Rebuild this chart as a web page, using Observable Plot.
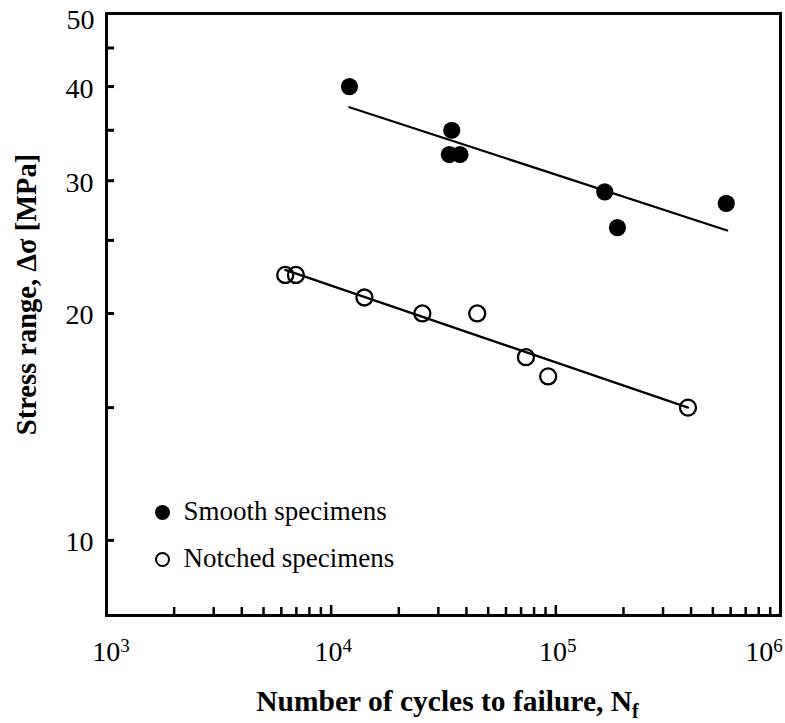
<!DOCTYPE html>
<html><head><meta charset="utf-8">
<script src="https://cdn.jsdelivr.net/npm/d3@7"></script>
<script src="https://cdn.jsdelivr.net/npm/@observablehq/plot@0.6"></script>
<style>body{margin:0;background:#fff}</style>
</head><body><div id="chart"></div>
<script>
// Smooth specimens (filled)
const smoothN = [12060, 34400, 33560, 37440, 165100, 188000, 573700];
const smoothS = [40.0, 35.0, 32.5, 32.5, 29.0, 26.0, 28.0];
// Notched specimens (open)
const notchedN = [6245, 6966, 14060, 25460, 44670, 73580, 92440, 387400];
const notchedS = [22.5, 22.5, 21.0, 20.0, 20.0, 17.5, 16.5, 15.0];
// Fit lines (end points)
const smoothFitN = [12060, 579000];
const smoothFitS = [37.55, 25.77];
const notchedFitN = [6245, 388000];
const notchedFitS = [22.85, 15.0];
// Ticks
const xMajorTicks = [1e3, 1e4, 1e5, 1e6];
const xMinorTicks = [2e3, 3e3, 4e3, 5e3, 6e3, 7e3, 8e3, 9e3,
                     2e4, 3e4, 4e4, 5e4, 6e4, 7e4, 8e4, 9e4,
                     2e5, 3e5, 4e5, 5e5, 6e5, 7e5, 8e5, 9e5];
const xTickLabels = ["10^3", "10^4", "10^5", "10^6"];
const yTicks = [10, 15, 20, 25, 30, 35, 40, 45, 50];
const yLabelTicks = [10, 20, 30, 40];
const yTopTick = [50];
const legendLabels = ["Smooth specimens", "Notched specimens"];
const xTitle = ["Number of cycles to failure, N", "f"];
const yTitle = "Stress range, \u0394\u03c3 [MPa]";

const FONT = "'Liberation Serif', 'Times New Roman', Times, serif";
const xLabel = d => xTickLabels[xMajorTicks.indexOf(d)];
const W = 785, H = 723, mL = 106, mR = 5, mT = 13, mB = 108;
const plotW = W - mL - mR, plotH = H - mT - mB;

const svg = Plot.plot({
  width: W, height: H,
  marginLeft: mL, marginRight: mR, marginTop: mT, marginBottom: mB,
  x: {type: "log", domain: [1e3, 1e6]},
  y: {type: "log", domain: [7.95, 50]},
  style: {fontFamily: FONT, fontSize: "28px", background: "white", color: "black"},
  marks: [
    // ticks (inward)
    Plot.tickY(yTicks, {y: d => d, insetRight: plotW - 8, strokeWidth: 3}),
    Plot.tickX(xMinorTicks, {x: d => d, insetTop: plotH - 8, strokeWidth: 2.5}),
    Plot.tickX(xMajorTicks, {x: d => d, insetTop: plotH - 10, strokeWidth: 2.5}),
    Plot.frame({strokeWidth: 3}),
    // axis labels
    Plot.axisY(yLabelTicks, {tickSize: 0, tickPadding: 13, dy: 2, fontSize: 28, fontFamily: FONT, label: null, tickFormat: d => String(d)}),
    Plot.axisY(yTopTick, {tickSize: 0, tickPadding: 12, dy: 7, fontSize: 28, fontFamily: FONT, label: null, tickFormat: d => String(d)}),
    Plot.axisX([1e3], {tickSize: 0, tickPadding: 26, dx: 4.5, fontSize: 28, fontFamily: FONT, label: null, tickFormat: xLabel}),
    Plot.axisX([1e4, 1e5], {tickSize: 0, tickPadding: 26, dx: 2, fontSize: 28, fontFamily: FONT, label: null, tickFormat: xLabel}),
    Plot.axisX([1e6], {tickSize: 0, tickPadding: 26, dx: -16.5, fontSize: 28, fontFamily: FONT, label: null, tickFormat: xLabel}),
    // fit lines
    Plot.line(smoothFitN, {x: smoothFitN, y: smoothFitS, stroke: "black", strokeWidth: 2.3}),
    Plot.line(notchedFitN, {x: notchedFitN, y: notchedFitS, stroke: "black", strokeWidth: 2.3}),
    // data
    Plot.dot(smoothN, {x: smoothN, y: smoothS, r: 8.6, fill: "black", stroke: "none"}),
    Plot.dot(notchedN, {x: notchedN, y: notchedS, r: 8, fill: "none", stroke: "black", strokeWidth: 2.3}),
    // legend
    Plot.dot([legendLabels[0]], {frameAnchor: "bottom-left", dx: 56, dy: -103, r: 7.5, fill: "black", stroke: "none"}),
    Plot.dot([legendLabels[1]], {frameAnchor: "bottom-left", dx: 56, dy: -56, r: 6.5, fill: "none", stroke: "black", strokeWidth: 2}),
    Plot.text([legendLabels[0]], {text: d => d, frameAnchor: "bottom-left", dx: 77, dy: -96, textAnchor: "start", lineAnchor: "bottom", fontSize: 27, fontFamily: FONT}),
    Plot.text([legendLabels[1]], {text: d => d, frameAnchor: "bottom-left", dx: 77, dy: -49, textAnchor: "start", lineAnchor: "bottom", fontSize: 27, fontFamily: FONT}),
    // titles
    Plot.text([xTitle[0]], {text: d => d, frameAnchor: "bottom", dx: 4, dy: 95, lineAnchor: "bottom", textAnchor: "middle", fontSize: 29.5, fontWeight: "bold", fontFamily: FONT}),
    Plot.text([yTitle], {text: d => d, frameAnchor: "left", rotate: -90, dx: -71, dy: -20, lineAnchor: "bottom", textAnchor: "middle", fontSize: 28.5, fontWeight: "bold", fontFamily: FONT})
  ]
});

const NS = "http://www.w3.org/2000/svg";
svg.querySelectorAll('g[aria-label="x-axis tick label"] text').forEach(t => {
  const parts = t.textContent.split("^");
  if (parts.length === 2) {
    t.textContent = parts[0];
    const ts = document.createElementNS(NS, "tspan");
    ts.setAttribute("dy", "-9");
    ts.setAttribute("font-size", "19");
    ts.textContent = parts[1];
    t.appendChild(ts);
  }
});
svg.querySelectorAll('text').forEach(t => {
  if (t.textContent === xTitle[0]) {
    const ts = document.createElementNS(NS, "tspan");
    ts.setAttribute("dy", "7");
    ts.setAttribute("font-size", "20");
    ts.textContent = xTitle[1];
    t.appendChild(ts);
  }
});
document.getElementById("chart").appendChild(svg);
</script>
</body></html>
